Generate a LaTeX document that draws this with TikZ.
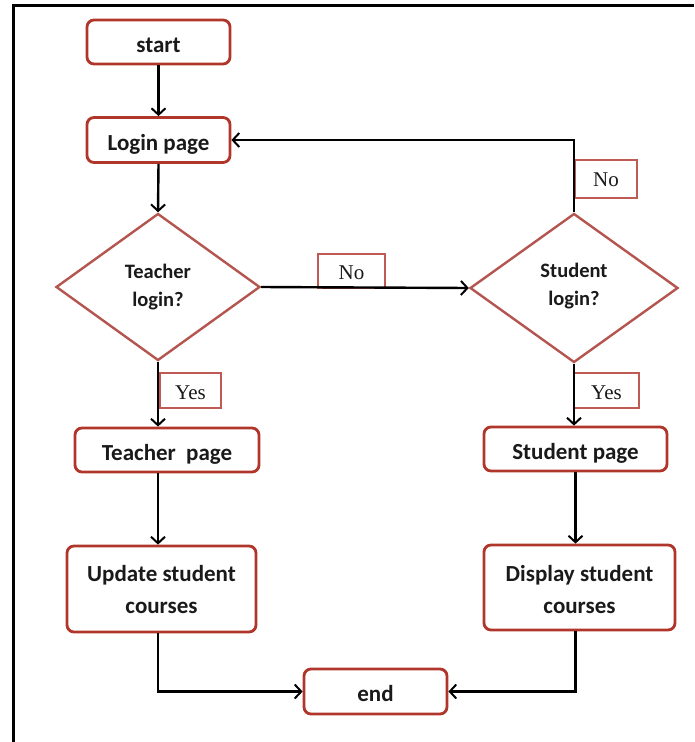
\documentclass[tikz,border=0pt]{standalone}
\usepackage{fontspec}
\setmainfont{Carlito}
\newfontfamily\lblfont{Liberation Serif}
\usetikzlibrary{shapes.geometric,arrows.meta}
\definecolor{boxred}{HTML}{B0362C}
\definecolor{diared}{HTML}{B5554F}
\definecolor{lblred}{HTML}{BF5A55}
\definecolor{txt}{HTML}{1A1A1A}
\tikzset{
  x=1pt, y=-1pt,
  procbox/.style={draw=boxred, line width=2.8pt, rounded corners=7pt, fill=white,
    text=txt, font=\fontsize{23}{31.6}\selectfont\bfseries, align=center, inner sep=0pt,
    text height=20pt, text depth=0pt},
  twoline/.style={text height=48.6pt, text depth=0pt},
  decbox/.style={diamond, draw=diared, line width=2.4pt, fill=white, text=txt,
    font=\fontsize{20.5}{28}\selectfont\bfseries, align=center, inner sep=0pt,
    minimum width=204pt, minimum height=147pt, text height=38pt, text depth=0pt},
  lblbox/.style={draw=lblred, line width=2pt, fill=white, text=txt,
    font=\lblfont\fontsize{21}{22}\selectfont, inner sep=0pt,
    text height=16pt, text depth=0pt},
  conn/.style={line width=2.4pt, black, -{Straight Barb[length=6.5pt,width=14pt,line width=2pt]}},
}
\begin{document}
\begin{tikzpicture}
\useasboundingbox (0,0) rectangle (694,742);
\draw[line width=3pt] (13,742) |- (694,5);

\node[procbox, minimum width=143pt, minimum height=44pt] (start) at (158.5,42) {start};
\node[procbox, minimum width=143pt, minimum height=45pt] (login) at (158.5,140) {Login page};
\node[decbox] (tdia) at (158,287) {Teacher\\login?};
\node[decbox, minimum width=208pt, minimum height=149pt, text height=34pt] (sdia) at (574,288) {Student\\login?};
\node[procbox, minimum width=184pt, minimum height=44pt] (tpage) at (167,450) {Teacher\ \ page};
\node[procbox, minimum width=183pt, minimum height=44pt] (spage) at (575.5,449) {Student page};
\node[procbox, twoline, minimum width=189pt, minimum height=86pt] (upd) at (161.5,589) {Update student\\courses};
\node[procbox, twoline, minimum width=191pt, minimum height=85pt, text height=51pt] (disp) at (579.5,587.5) {Display student\\courses};
\node[procbox, minimum width=143pt, minimum height=45pt] (end) at (375.5,691.5) {end};

\node[lblbox, minimum width=67pt, minimum height=34pt] (no1) at (351.5,271) {No};
\node[lblbox, minimum width=62pt, minimum height=38pt, text height=14pt] (no2) at (606,179) {No};
\node[lblbox, minimum width=61pt, minimum height=35pt, text height=18pt] (yes1) at (190.5,390.5) {Yes};
\node[lblbox, minimum width=65pt, minimum height=35pt, text height=18pt] (yes2) at (606.5,390.5) {Yes};

\draw[conn] (start.south) -- (login.north);
\draw[conn] (login.south) -- (tdia.north);
\draw[conn] (tdia.east) -- (sdia.west);
\draw[conn] (sdia.north) |- (login.east);
\draw[conn] (tdia.south) -- (tdia.south |- tpage.north);
\draw[conn] (tdia.south |- tpage.south) -- (tdia.south |- upd.north);
\draw[conn] (tdia.south |- upd.south) |- (end.west);
\draw[conn] (sdia.south) -- (sdia.south |- spage.north);
\draw[conn] (spage.south) -- (spage.south |- disp.north);
\draw[conn] (spage.south |- disp.south) |- (end.east);
\end{tikzpicture}
\end{document}
